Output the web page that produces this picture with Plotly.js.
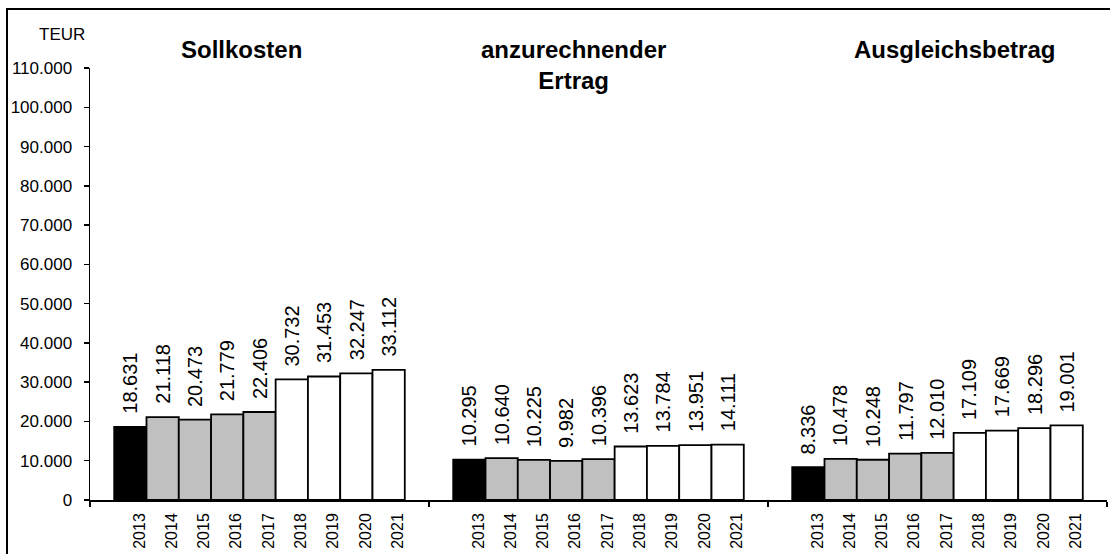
<!DOCTYPE html>
<html>
<head>
<meta charset="utf-8">
<script src="https://cdn.plot.ly/plotly-3.0.1.min.js"></script>
<style>
  html, body { margin: 0; padding: 0; background: #fff; overflow: hidden; }
  #wrap { position: relative; width: 1110px; height: 554px; overflow: hidden; }
  #chart { position: absolute; left: 0; top: 0; width: 1110px; height: 554px; }
  #frame { position: absolute; left: 6px; top: 8px; width: 1200px; height: 700px;
           border-top: 2px solid #000; border-left: 2px solid #000; pointer-events: none; }
</style>
</head>
<body>
<div id="wrap">
<div id="chart"></div>
<div id="frame"></div>
</div>
<script>
// ---- data ----
const years = ['2013', '2014', '2015', '2016', '2017', '2018', '2019', '2020', '2021'];
const groupTitles = ['Sollkosten', 'anzurechnender<br>Ertrag', 'Ausgleichsbetrag'];
const sollkosten = [18631, 21118, 20473, 21779, 22406, 30732, 31453, 32247, 33112];
const anzurechnenderErtrag = [10295, 10640, 10225, 9982, 10396, 13623, 13784, 13951, 14111];
const ausgleichsbetrag = [8336, 10478, 10248, 11797, 12010, 17109, 17669, 18296, 19001];
const yTicks = [0, 10000, 20000, 30000, 40000, 50000, 60000, 70000, 80000, 90000, 100000, 110000];
const unitLabel = 'TEUR';

// ---- styles / layout helpers ----
const seriesList = [sollkosten, anzurechnenderErtrag, ausgleichsbetrag];
const barColors = ['#000000', '#c0c0c0', '#c0c0c0', '#c0c0c0', '#c0c0c0', '#ffffff', '#ffffff', '#ffffff', '#ffffff'];
const groupPitch = 10.5, leadGap = 0.75;
const xMax = groupPitch * 3;
const FONT = '"Liberation Sans", Arial, sans-serif';

function fmt(v) {
  return String(v).replace(/\B(?=(\d{3})+(?!\d))/g, '.');
}

const traces = [];
const annotations = [];
const allCenters = [];
const allYearText = [];

seriesList.forEach((vals, g) => {
  const xs = vals.map((_, i) => g * groupPitch + leadGap + i + 0.5);
  xs.forEach((x, i) => { allCenters.push(x); allYearText.push(years[i]); });
  traces.push({
    type: 'bar',
    x: xs,
    y: vals,
    width: 1,
    marker: { color: barColors, line: { color: '#000', width: 1.8 } },
    hoverinfo: 'skip',
    showlegend: false
  });
  vals.forEach((v, i) => {
    annotations.push({
      x: xs[i], y: v, xref: 'x', yref: 'y',
      text: fmt(v), textangle: -90, showarrow: false,
      xanchor: 'center', yanchor: 'bottom', yshift: 11,
      font: { family: FONT, size: 20, color: '#000' }
    });
  });
});

// dummy trace for label axis
traces.push({ type: 'scatter', x: [0], y: [0], xaxis: 'x2', mode: 'markers',
  marker: { opacity: 0 }, hoverinfo: 'skip', showlegend: false });

// group titles
const titleX = [0.1485, 0.475, 0.8496];
groupTitles.forEach((t, g) => {
  annotations.push({
    x: titleX[g], y: 1.078, xref: 'paper', yref: 'paper',
    text: '<b>' + t + '</b>', showarrow: false,
    xanchor: 'center', yanchor: 'top',
    font: { family: FONT, size: 24, color: '#000' }
  });
});
annotations.push({
  x: -0.0275, y: 1.078, xref: 'paper', yref: 'paper',
  text: unitLabel, showarrow: false, xanchor: 'center', yanchor: 'middle',
  font: { family: FONT, size: 17, color: '#000' }
});

const layout = {
  width: 1110, height: 554,
  margin: { l: 90, r: 3, t: 68, b: 54, pad: 0 },
  paper_bgcolor: 'rgba(0,0,0,0)', plot_bgcolor: 'rgba(0,0,0,0)',
  separators: ',.',
  barmode: 'overlay',
  font: { family: FONT, color: '#000' },
  showlegend: false,
  xaxis: {
    range: [0, xMax], fixedrange: true, automargin: false,
    showgrid: false, zeroline: false,
    showline: true, linecolor: '#000', linewidth: 1.5,
    tickmode: 'array', tickvals: [0, groupPitch, groupPitch * 2, xMax], ticktext: ['', '', '', ''],
    ticks: 'outside', ticklen: 5, tickwidth: 1.5, tickcolor: '#000'
  },
  xaxis2: {
    overlaying: 'x', side: 'bottom', anchor: 'y',
    range: [-0.28, xMax - 0.28], fixedrange: true, automargin: false,
    showgrid: false, zeroline: false, showline: false, ticks: '',
    tickmode: 'array', tickvals: allCenters, ticktext: allYearText,
    tickangle: -90, ticklabelstandoff: 9,
    tickfont: { family: FONT, size: 16, color: '#000' }
  },
  yaxis: {
    range: [0, 110000], fixedrange: true, automargin: false,
    showgrid: false, zeroline: false,
    showline: true, linecolor: '#000', linewidth: 1.5,
    tickmode: 'array', tickvals: yTicks, tickformat: ',d',
    ticks: 'outside', ticklen: 5, tickwidth: 1.5, tickcolor: '#000',
    ticklabelstandoff: 8,
    tickfont: { family: FONT, size: 17, color: '#000' }
  },
  annotations: annotations
};

Plotly.newPlot('chart', traces, layout, { displayModeBar: false, staticPlot: true });
</script>
</body>
</html>
